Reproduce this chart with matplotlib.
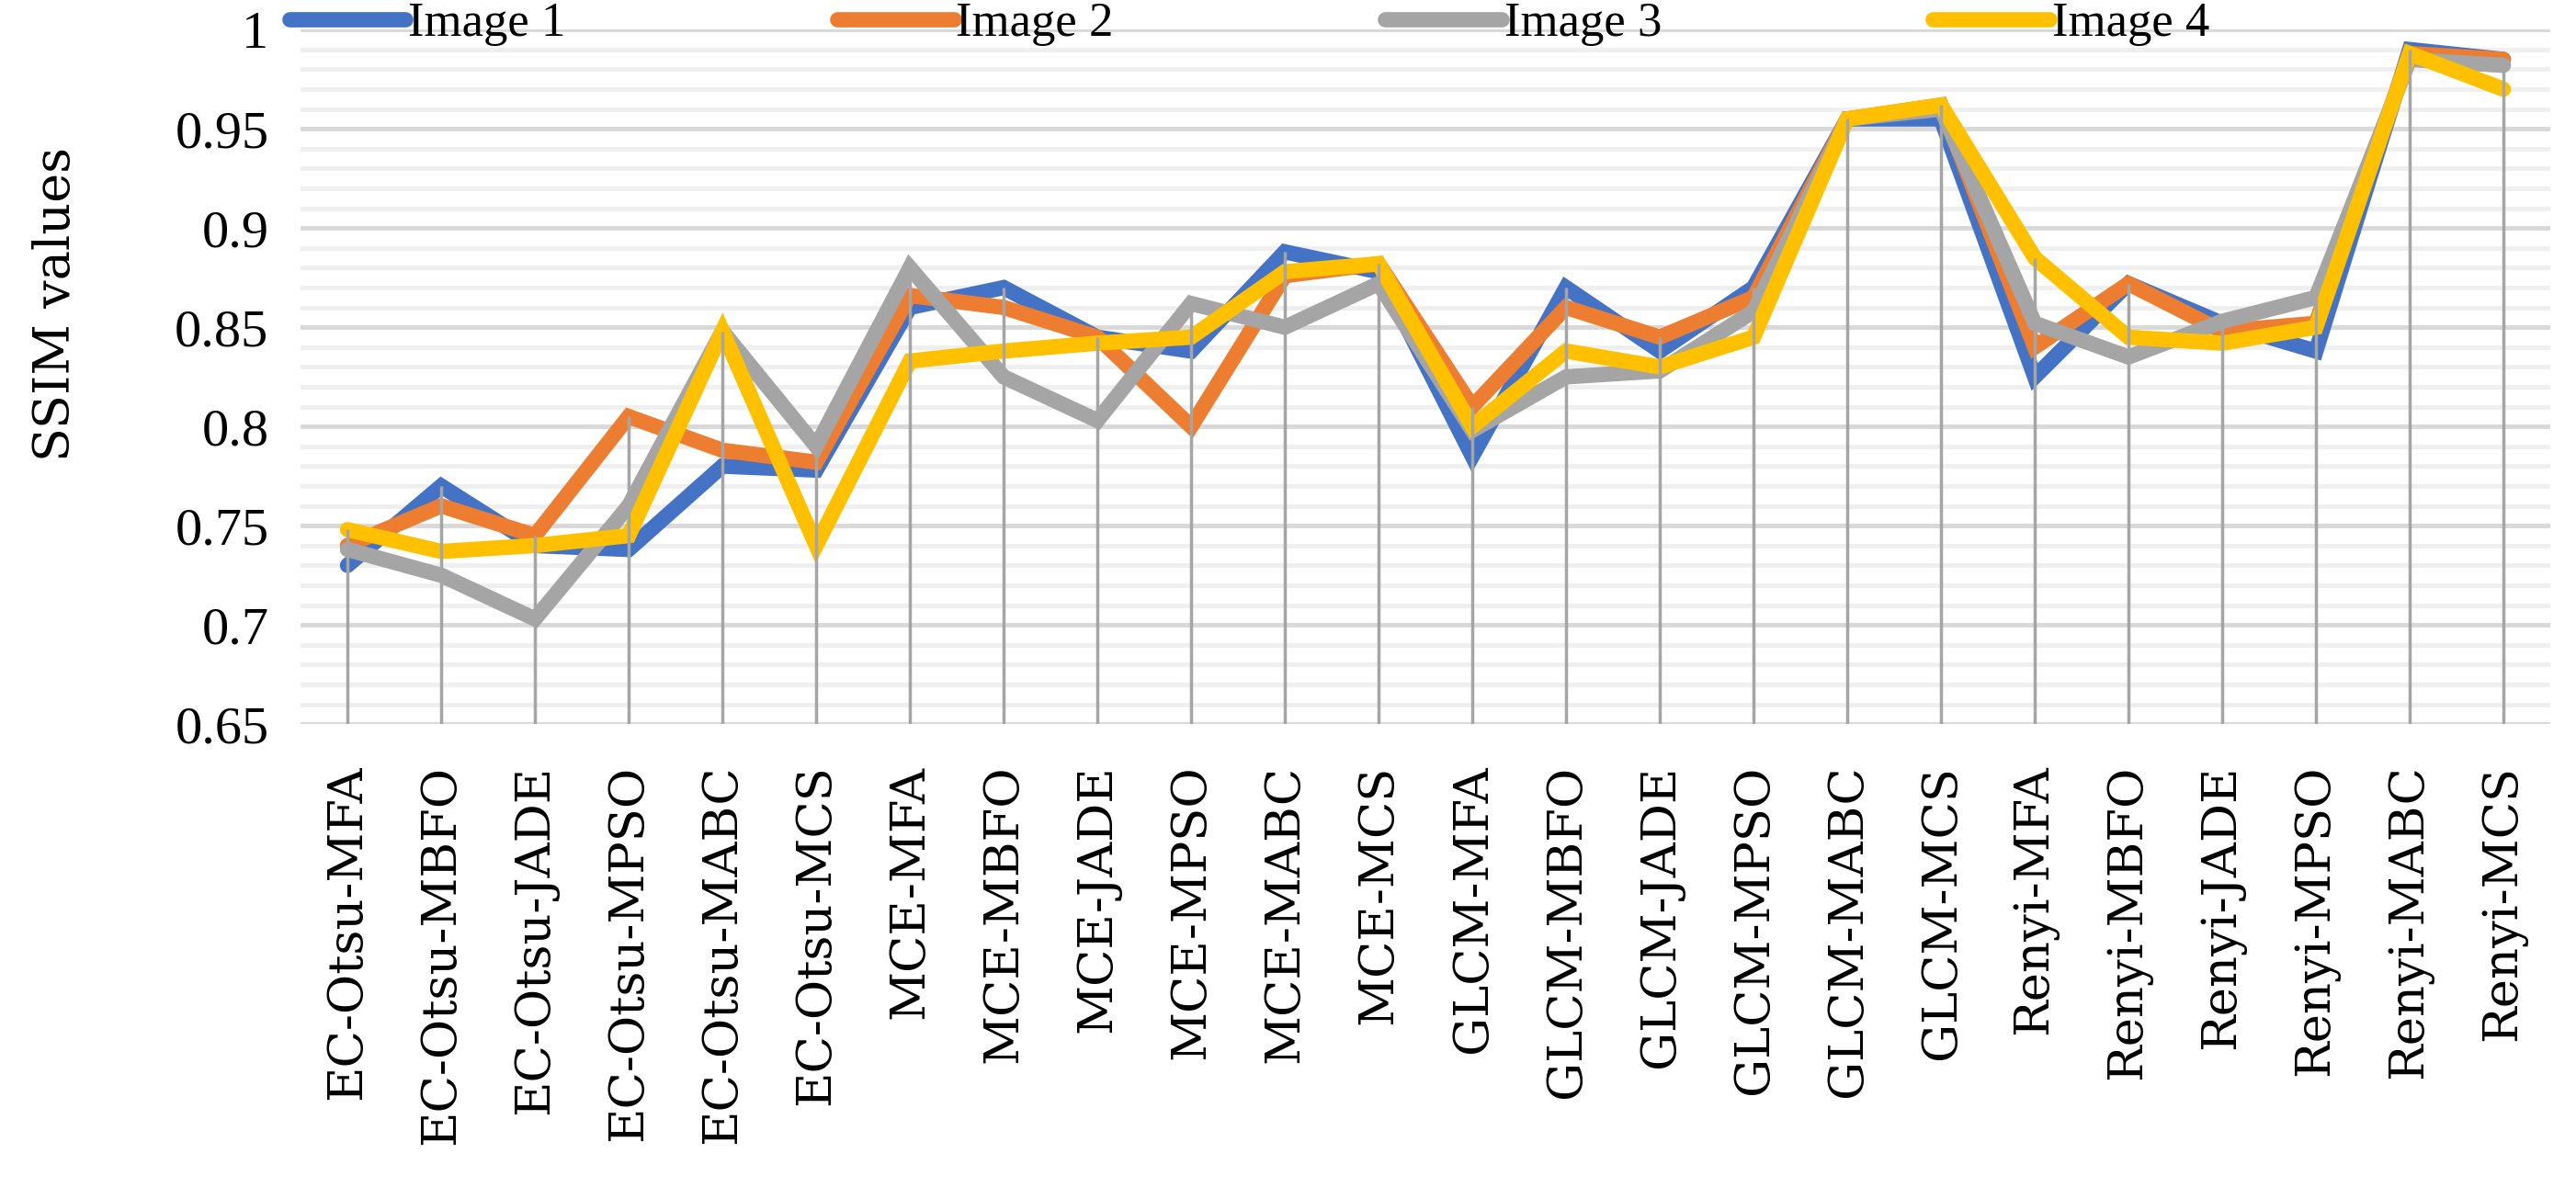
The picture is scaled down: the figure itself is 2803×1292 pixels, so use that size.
import matplotlib
matplotlib.use("Agg")
from matplotlib import pyplot as plt
from matplotlib.ticker import MultipleLocator
import numpy as np

# methods on the x axis
methods = ["EC-Otsu-MFA", "EC-Otsu-MBFO", "EC-Otsu-JADE", "EC-Otsu-MPSO", "EC-Otsu-MABC", "EC-Otsu-MCS",
           "MCE-MFA", "MCE-MBFO", "MCE-JADE", "MCE-MPSO", "MCE-MABC", "MCE-MCS",
           "GLCM-MFA", "GLCM-MBFO", "GLCM-JADE", "GLCM-MPSO", "GLCM-MABC", "GLCM-MCS",
           "Renyi-MFA", "Renyi-MBFO", "Renyi-JADE", "Renyi-MPSO", "Renyi-MABC", "Renyi-MCS"]

# SSIM values
image1 = [0.730, 0.770, 0.740, 0.738, 0.780, 0.778, 0.860, 0.870, 0.845, 0.838, 0.888, 0.878,
          0.785, 0.870, 0.838, 0.870, 0.955, 0.955, 0.825, 0.872, 0.852, 0.838, 0.990, 0.985]
image2 = [0.740, 0.760, 0.745, 0.805, 0.788, 0.782, 0.866, 0.860, 0.845, 0.800, 0.876, 0.882,
          0.810, 0.860, 0.845, 0.865, 0.955, 0.962, 0.840, 0.872, 0.848, 0.852, 0.988, 0.985]
image3 = [0.738, 0.725, 0.703, 0.760, 0.848, 0.790, 0.880, 0.825, 0.803, 0.862, 0.850, 0.872,
          0.798, 0.825, 0.828, 0.858, 0.955, 0.960, 0.852, 0.835, 0.853, 0.865, 0.985, 0.982]
image4 = [0.748, 0.737, 0.740, 0.745, 0.848, 0.740, 0.833, 0.838, 0.842, 0.845, 0.878, 0.882,
          0.800, 0.838, 0.830, 0.845, 0.955, 0.962, 0.885, 0.845, 0.842, 0.850, 0.988, 0.970]

series_names = ["Image 1", "Image 2", "Image 3", "Image 4"]
colors = ["#4472C4", "#ED7D31", "#A5A5A5", "#FFC000"]

fig = plt.figure(figsize=(28.03, 12.92), dpi=100)
ax = fig.add_axes([0.1167, 0.390, 0.8733, 0.585])

x = np.arange(len(methods))
all_series = [image1, image2, image3, image4]
for vals, name, c in zip(all_series, series_names, colors):
    ax.plot(x, vals, color=c, lw=12, label=name, solid_joinstyle="miter", solid_capstyle="round", zorder=3)

# drop lines from the highest point down to the axis
tops = np.max(np.array(all_series), axis=0)
ax.vlines(x, 0.65, tops, color="#A5A5A5", lw=2.5, zorder=4)

ax.set_ylim(0.65, 1.0)
ax.set_xlim(-0.5, len(methods) - 0.5)
ax.yaxis.set_major_locator(MultipleLocator(0.05))
ax.yaxis.set_minor_locator(MultipleLocator(0.01))
ax.grid(which="major", axis="y", color="#D9D9D9", lw=3.5, zorder=0)
ax.grid(which="minor", axis="y", color="#EFEFEF", lw=3.5, zorder=0)
ax.set_axisbelow(True)
for s in ax.spines.values():
    s.set_visible(False)

ax.set_yticks([0.65, 0.7, 0.75, 0.8, 0.85, 0.9, 0.95, 1.0])
ax.set_yticklabels(["0.65", "0.7", "0.75", "0.8", "0.85", "0.9", "0.95", "1"],
                   family="Liberation Serif", fontsize=42)
ax.set_xticks(x)
ax.set_xticklabels(methods, rotation=90, family="DejaVu Serif", fontsize=38)
ax.tick_params(axis="both", which="both", length=0)
ax.tick_params(axis="y", pad=25)
ax.tick_params(axis="x", pad=32)

ax.set_ylabel("SSIM values", family="DejaVu Serif", fontsize=39)
ax.yaxis.set_label_coords(-0.098, 0.605)

fig.legend(loc="upper center", bbox_to_anchor=(0.485, 1.035), ncol=4, frameon=False,
           prop={"family": "Liberation Serif", "size": 38}, handlelength=2.4,
           handletextpad=0.05, columnspacing=5.6)

fig.savefig("out.png", dpi=100)
